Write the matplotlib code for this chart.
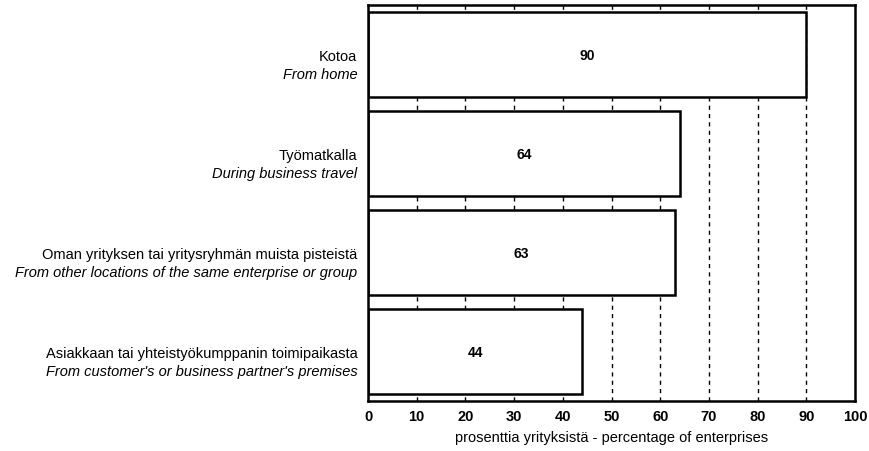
import matplotlib
matplotlib.use("Agg")
import matplotlib.pyplot as plt

plt.rcParams['font.family'] = ['Liberation Sans', 'DejaVu Sans']

labels_fi = ["Kotoa", "Työmatkalla", "Oman yrityksen tai yritysryhmän muista pisteistä",
             "Asiakkaan tai yhteistyökumppanin toimipaikasta"]
labels_en = ["From home", "During business travel",
             "From other locations of the same enterprise or group",
             "From customer's or business partner's premises"]
values = [90, 64, 63, 44]
xticks = [0, 10, 20, 30, 40, 50, 60, 70, 80, 90, 100]
xlabel = "prosenttia yrityksistä - percentage of enterprises"

fig = plt.figure(figsize=(8.69, 4.52), dpi=100)
ax = fig.add_axes([0.4235, 0.1106, 0.984 - 0.4235, 0.9867 - 0.1106])

ypos = list(range(len(values)))
for x in xticks[1:-1]:
    ax.axvline(x, color='black', linestyle=(0, (3, 3)), linewidth=1.0, zorder=1)
ax.barh(ypos, values, height=0.86, color='white', edgecolor='black', linewidth=1.8, zorder=2)
for y, v in zip(ypos, values):
    ax.text(v / 2, y, str(v), ha='center', va='center', fontsize=10, fontweight='bold', zorder=3)

ax.set_xlim(0, 100)
ax.set_ylim(len(values) - 0.5, -0.5)
ax.set_xticks(xticks)
ax.set_xticklabels([str(t) for t in xticks], fontsize=10.5, fontweight='bold')
ax.tick_params(axis='x', length=0, pad=6)
ax.set_yticks([])
for s in ax.spines.values():
    s.set_linewidth(1.8)

tr = ax.get_yaxis_transform()
for y, fi, en in zip(ypos, labels_fi, labels_en):
    ax.text(-0.022, y + 0.02, fi, transform=tr, ha='right', va='center', fontsize=10.5)
    ax.text(-0.022, y + 0.20, en, transform=tr, ha='right', va='center', fontsize=10.5, style='italic')

ax.set_xlabel(xlabel, fontsize=10.5, labelpad=5)
fig.savefig("out.png", dpi=100)
